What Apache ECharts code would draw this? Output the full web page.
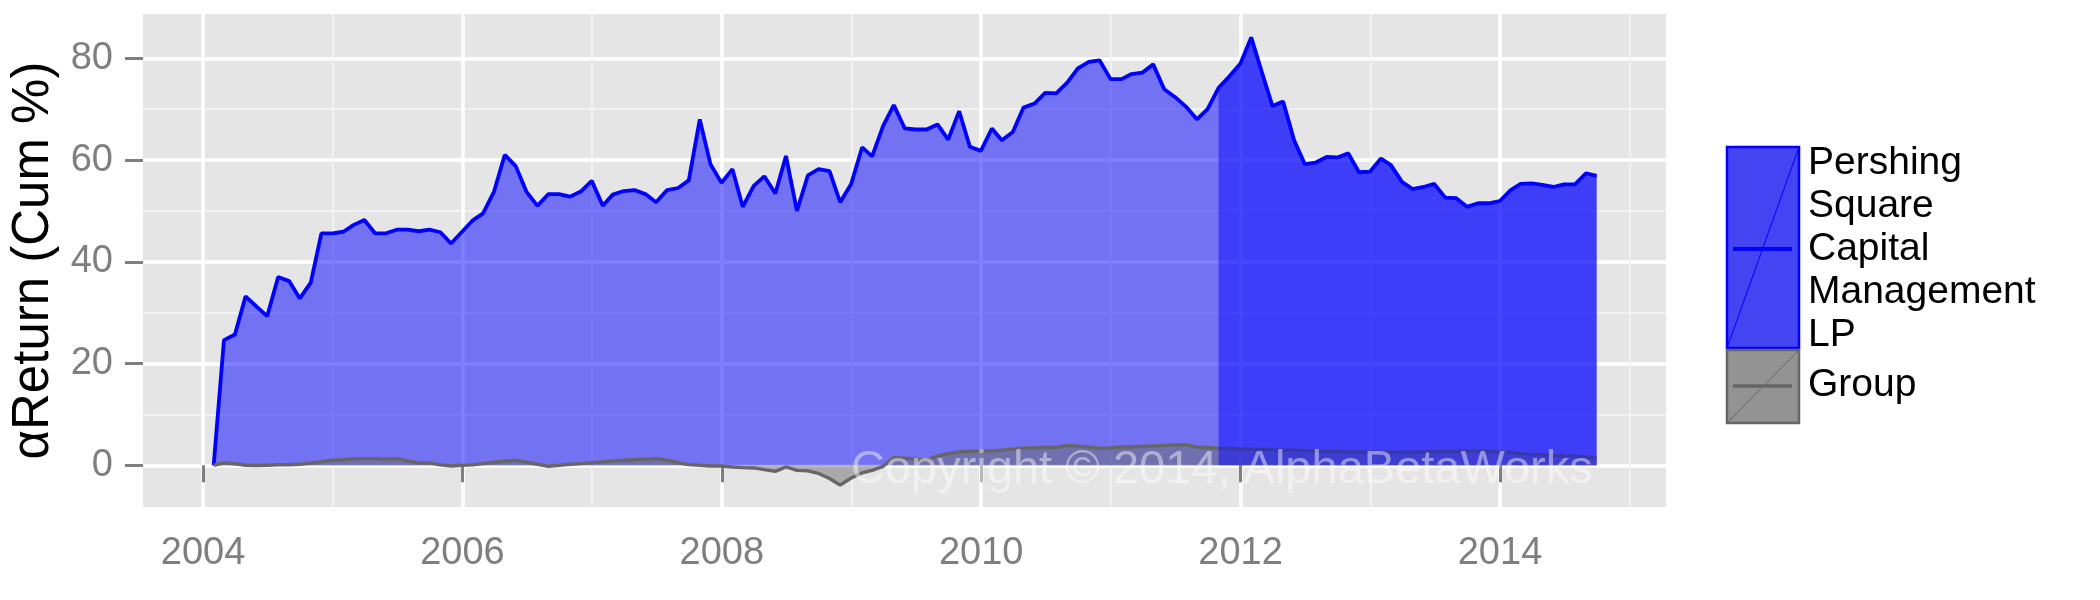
<!DOCTYPE html>
<html>
<head>
<meta charset="utf-8">
<script src="https://cdn.jsdelivr.net/npm/echarts@6/dist/echarts.min.js"></script>
<style>
html,body{margin:0;padding:0;background:#fff;}
#chart{width:2100px;height:600px;}
</style>
</head>
<body>
<div id="chart"></div>
<script>
// Monthly (month-end) observations, Jan 2004 .. Sep 2014
const startYear = 2004, startMonth = 0, monthCount = 129;
const seriesNames = ['Pershing Square Capital Management LP', 'Group'];
const pershing = [
  0, 24.6, 25.7, 33.2, 31.2, 29.3, 37.0, 36.2, 32.8, 35.9, 45.6, 45.6,
  45.9, 47.2, 48.2, 45.6, 45.6, 46.3, 46.3, 46.0, 46.3, 45.8, 43.6, 45.9,
  48.2, 49.5, 53.8, 61.0, 58.8, 53.8, 51.0, 53.3, 53.3, 52.8, 53.8, 55.9,
  51.0, 53.2, 53.9, 54.1, 53.3, 51.7, 54.1, 54.5, 56.0, 68.0, 59.2, 55.5,
  58.2, 50.8, 54.9, 56.8, 53.4, 60.8, 50.0, 57.0, 58.2, 57.8, 51.7, 55.3,
  62.5, 60.7, 66.7, 70.8, 66.2, 66.0, 66.0, 67.0, 64.0, 69.6, 62.6, 61.8,
  66.2, 63.9, 65.5, 70.3, 71.1, 73.2, 73.1, 75.2, 78.0, 79.3, 79.6, 75.9,
  75.9, 76.9, 77.2, 78.8, 73.9, 72.4, 70.5, 68.0, 70.0, 74.2, 76.4, 78.9,
  84.1, 77.5, 70.6, 71.5, 63.9, 59.2, 59.5, 60.6, 60.5, 61.3, 57.6, 57.7,
  60.3, 59.0, 55.7, 54.3, 54.7, 55.3, 52.6, 52.5, 50.8, 51.5, 51.5, 51.9,
  54.1, 55.3, 55.4, 55.1, 54.7, 55.2, 55.2, 57.4, 56.9
];
const group = [
  0, 0.46, 0.3, 0, -0.05, 0, 0.1, 0.1, 0.2, 0.46, 0.72, 1.0,
  1.1, 1.25, 1.3, 1.3, 1.2, 1.3, 0.85, 0.5, 0.46, 0.07, -0.13, 0,
  0.07, 0.33, 0.6, 0.8, 1.0, 0.6, 0.2, -0.2, 0, 0.2, 0.33, 0.52,
  0.66, 0.85, 1.0, 1.1, 1.2, 1.3, 1.0, 0.5, 0.13, 0, -0.13, -0.13,
  -0.33, -0.46, -0.52, -0.85, -1.2, -0.33, -1.0, -1.1, -1.6, -2.6, -3.9, -2.5,
  -1.5, -1.0, -0.2, 1.5, 1.4, 1.2, 1.0, 1.8, 2.3, 2.6, 2.75, 2.8,
  2.8, 2.95, 3.15, 3.4, 3.4, 3.5, 3.5, 3.9, 3.75, 3.6, 3.35, 3.4,
  3.6, 3.6, 3.75, 3.8, 3.9, 4.0, 4.0, 3.6, 3.5, 3.35, 3.3, 3.2,
  3.15, 3.1, 3.1, 2.95, 2.95, 2.9, 2.8, 2.75, 2.7, 2.6, 2.6, 2.55,
  2.55, 2.55, 2.5, 2.5, 2.6, 2.7, 2.7, 2.7, 2.75, 2.75, 2.7, 2.6,
  2.5, 2.3, 2.15, 2.1, 1.95, 1.85, 1.8, 1.65, 1.45
];
const highlightStart = '2011-10';           // darker shading from this month on
const majorYears = [2004, 2006, 2008, 2010, 2012, 2014];
const minorYears = [2005, 2007, 2009, 2011, 2013, 2015];
const yMajor = [0, 20, 40, 60, 80];
const yMinor = [10, 30, 50, 70];
const yTitle = 'αReturn (Cum %)';
const watermark = 'Copyright © 2014, AlphaBetaWorks';

// month-end dates expressed as fractional years (a date scale)
function fracYear(ts) {
  const d = new Date(ts), y = d.getUTCFullYear();
  const a = Date.UTC(y, 0, 1), b = Date.UTC(y + 1, 0, 1);
  return y + (ts - a) / (b - a);
}
const dates = [];
for (let i = 0; i < monthCount; i++) {
  const y = startYear + Math.floor((startMonth + i) / 12);
  const m = (startMonth + i) % 12;
  dates.push(fracYear(Date.UTC(y, m + 1, 0)));
}
const hlParts = highlightStart.split('-');
const hlIndex = (parseInt(hlParts[0]) - startYear) * 12 + (parseInt(hlParts[1]) - 1 - startMonth);

const FONT = '"Liberation Sans", Arial, Helvetica, sans-serif';
const GREY = '#7F7F7F';

const chart = echarts.init(document.getElementById('chart'), null, {renderer: 'canvas'});
const xMin = 2003.537, xMax = 2015.28;

const option = {
  animation: false,
  backgroundColor: '#ffffff',
  grid: {left: 143, right: 434, top: 14, bottom: 93, show: true, backgroundColor: '#E5E5E5', borderWidth: 0, containLabel: false},
  xAxis: [
    {
      type: 'value', min: xMin, max: xMax,
      axisLine: {show: false},
      axisTick: {show: true, length: 17, lineStyle: {color: GREY, width: 3}, customValues: majorYears},
      axisLabel: {show: true, customValues: majorYears, formatter: v => String(Math.round(v)),
                  color: GREY, fontSize: 38, fontFamily: FONT, margin: 28},
      splitLine: {show: true, lineStyle: {color: '#FFFFFF', width: 3.5}}
    },
    {
      type: 'value', min: xMin, max: xMax, position: 'bottom',
      axisLine: {show: false},
      axisTick: {show: false, customValues: minorYears},
      axisLabel: {show: false, customValues: minorYears},
      splitLine: {show: true, lineStyle: {color: '#F2F2F2', width: 1.8}}
    }
  ],
  yAxis: [
    {
      type: 'value', min: -8.2, max: 88.7,
      axisLine: {show: false},
      axisTick: {show: true, length: 18, lineStyle: {color: GREY, width: 3}, customValues: yMajor},
      axisLabel: {show: true, customValues: yMajor, color: GREY, fontSize: 38, fontFamily: FONT, margin: 30},
      splitLine: {show: true, lineStyle: {color: '#FFFFFF', width: 3.5}},
      name: yTitle, nameLocation: 'middle', nameGap: 72, nameRotate: 90,
      nameTextStyle: {color: '#000000', fontSize: 51, fontFamily: FONT}
    },
    {
      type: 'value', min: -8.2, max: 88.7,
      axisLine: {show: false},
      axisTick: {show: false, customValues: yMinor},
      axisLabel: {show: false, customValues: yMinor},
      splitLine: {show: true, lineStyle: {color: '#F2F2F2', width: 1.8}}
    }
  ],
  series: [
    {
      name: seriesNames[0], type: 'line', xAxisIndex: 0, yAxisIndex: 0,
      data: dates.map((d, i) => [d, pershing[i]]),
      symbol: 'none', showSymbol: false, z: 2,
      lineStyle: {color: '#0000FF', width: 3.8},
      areaStyle: {color: 'rgba(0,0,255,0.5)', opacity: 1, origin: 0}
    },
    {
      name: seriesNames[1], type: 'line', xAxisIndex: 0, yAxisIndex: 0,
      data: dates.map((d, i) => [d, group[i]]),
      symbol: 'none', showSymbol: false, z: 3,
      lineStyle: {color: '#666666', width: 3.4},
      areaStyle: {color: 'rgba(109,109,109,0.5)', opacity: 1, origin: 0}
    },
    {
      name: seriesNames[0] + ' (recent)', type: 'line', xAxisIndex: 0, yAxisIndex: 0,
      data: dates.slice(hlIndex).map((d, i) => [d, pershing[hlIndex + i]]),
      symbol: 'none', showSymbol: false, z: 4,
      lineStyle: {color: '#0000FF', width: 0, opacity: 0},
      areaStyle: {color: 'rgba(0,0,255,0.45)', opacity: 1, origin: 0}
    }
  ],
  graphic: [
    {type: 'text', x: 851, y: 470, z: 100,
     style: {text: watermark, font: '47px ' + FONT, fill: 'rgba(255,255,255,0.45)', align: 'left', verticalAlign: 'middle'}},
    // legend key 1
    {type: 'rect', shape: {x: 1727, y: 147, width: 72, height: 201},
     style: {fill: '#4444F2', stroke: '#0000FF', lineWidth: 2.5}},
    {type: 'line', shape: {x1: 1727, y1: 348, x2: 1799, y2: 147}, style: {stroke: '#0000FF', lineWidth: 1}},
    {type: 'line', shape: {x1: 1733, y1: 249, x2: 1792, y2: 249}, style: {stroke: '#0000FF', lineWidth: 3.8}},
    // legend key 2
    {type: 'rect', shape: {x: 1727, y: 350, width: 72, height: 73},
     style: {fill: '#939393', stroke: '#666666', lineWidth: 2.5}},
    {type: 'line', shape: {x1: 1727, y1: 423, x2: 1799, y2: 350}, style: {stroke: '#666666', lineWidth: 1}},
    {type: 'line', shape: {x1: 1733, y1: 386, x2: 1792, y2: 386}, style: {stroke: '#666666', lineWidth: 3.4}},
    {type: 'text', x: 1808, y: 142,
     style: {text: 'Pershing\nSquare\nCapital\nManagement\nLP', font: '39px ' + FONT, fill: '#000000', lineHeight: 43, align: 'left', verticalAlign: 'top'}},
    {type: 'text', x: 1808, y: 385,
     style: {text: seriesNames[1], font: '39px ' + FONT, fill: '#000000', align: 'left', verticalAlign: 'middle'}}
  ]
};
chart.setOption(option);
</script>
</body>
</html>
